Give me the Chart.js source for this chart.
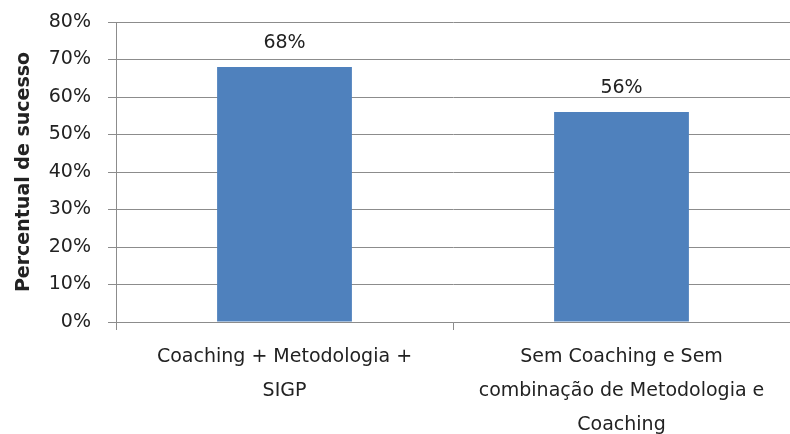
<!DOCTYPE html>
<html lang="pt">
<head>
  <meta charset="UTF-8">
  <title>Percentual de sucesso</title>
  <script src="https://cdn.jsdelivr.net/npm/chart.js"></script>
  <style>
    html, body {
      margin: 0;
      padding: 0;
      background: #fff;
    }
    .chart-box {
      width: 790px;
      height: 434px;
    }
  </style>
</head>
<body>
  <div class="chart-box">
    <canvas id="sucessoChart"></canvas>
  </div>

  <script>
    const categories = [
      ["Coaching + Metodologia +", "SIGP"],
      ["Sem Coaching e Sem", "combinação de Metodologia e", "Coaching"]
    ];
    const successRates = [68, 56];
    const yTicks = [0, 10, 20, 30, 40, 50, 60, 70, 80];

    const fontFamily = "'DejaVu Sans', sans-serif";
    const textColor = "#222";
    const gridColor = "#8c8c8c";

    // rótulos de valor acima das barras
    const valueLabels = {
      id: "valueLabels",
      afterDatasetsDraw(chart) {
        const ctx = chart.ctx;
        const meta = chart.getDatasetMeta(0);
        ctx.save();
        ctx.font = "19px " + fontFamily;
        ctx.fillStyle = textColor;
        ctx.textAlign = "center";
        ctx.textBaseline = "middle";
        meta.data.forEach((bar, i) => {
          ctx.fillText(successRates[i] + "%", bar.x, bar.y - 24);
        });
        ctx.restore();
      }
    };

    const ctx = document.getElementById("sucessoChart").getContext("2d");
    new Chart(ctx, {
      type: "bar",
      data: {
        labels: categories,
        datasets: [{
          label: "Percentual de sucesso",
          data: successRates,
          backgroundColor: "#4f81bd",
          barPercentage: 0.4,
          categoryPercentage: 1
        }]
      },
      options: {
        responsive: true,
        maintainAspectRatio: false,
        animation: false,
        layout: { padding: { top: 22, right: 0, left: 0, bottom: 0 } },
        plugins: {
          legend: { display: false },
          tooltip: { enabled: false }
        },
        scales: {
          x: {
            grid: {
              drawOnChartArea: false,
              color: gridColor,
              tickLength: 8
            },
            border: { color: gridColor },
            ticks: {
              color: textColor,
              padding: 10,
              maxRotation: 0,
              autoSkip: false,
              font: { family: fontFamily, size: 19, lineHeight: 1.79 }
            },
            afterFit(scale) {
              scale.height = 112;
              scale.paddingLeft = 0;
              scale.paddingRight = 0;
            }
          },
          y: {
            min: 0,
            max: 80,
            afterBuildTicks(scale) {
              scale.ticks = yTicks.map(v => ({ value: v }));
            },
            grid: {
              color: gridColor,
              tickLength: 8
            },
            border: { color: gridColor },
            ticks: {
              color: textColor,
              padding: 17,
              font: { family: fontFamily, size: 19 },
              callback: v => v + "%"
            },
            title: {
              display: true,
              text: "Percentual de sucesso",
              color: textColor,
              padding: { top: 13, bottom: 0 },
              font: { family: fontFamily, size: 19, weight: "bold" }
            },
            afterFit(scale) {
              scale.width = 116;
              scale.paddingTop = 0;
              scale.paddingBottom = 0;
            }
          }
        }
      },
      plugins: [valueLabels]
    });
  </script>
</body>
</html>
